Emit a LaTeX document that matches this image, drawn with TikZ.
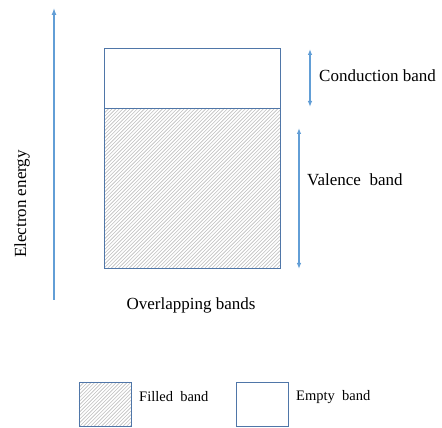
\documentclass[tikz,border=0pt]{standalone}
\usepackage{fontspec}
\setmainfont{Liberation Serif}
\usetikzlibrary{arrows.meta}
\definecolor{bandedge}{RGB}{79,118,168}
\definecolor{arrowblue}{RGB}{98,158,214}
\definecolor{hatchgray}{RGB}{190,190,190}
% diagonal hatching of the box (#1,#2)-(#3,#4), segments cut to the box edges
\newcommand\hatchbox[4]{%
  \pgfmathsetmacro\hbcmin{#1-#4+1.8}%
  \pgfmathsetmacro\hbcnext{\hbcmin+3.6}%
  \pgfmathsetmacro\hbcmax{#3-#2}%
  \foreach \hbc in {\hbcmin,\hbcnext,...,\hbcmax}{%
    \pgfmathsetmacro\hbxs{max(#1,#2+(\hbc))}%
    \pgfmathsetmacro\hbxe{min(#3,#4+(\hbc))}%
    \pgfmathsetmacro\hbys{\hbxs-(\hbc)}%
    \pgfmathsetmacro\hbye{\hbxe-(\hbc)}%
    \draw[hatch] (\hbxs,\hbys) -- (\hbxe,\hbye);
  }}
\begin{document}
\begin{tikzpicture}[x=1pt,y=1pt,
  band/.style={draw=bandedge,line width=0.9pt},
  hatch/.style={draw=hatchgray,line width=0.6pt},
  span/.style={draw=arrowblue,line width=1.1pt,{Latex[length=6pt,width=4.5pt]}-{Latex[length=6pt,width=4.5pt]}},
  axis/.style={draw=arrowblue,line width=1.3pt,-{Latex[length=7pt,width=5pt]}},
  lbl/.style={font=\fontsize{17}{20}\selectfont,inner sep=0pt},
  leg/.style={font=\fontsize{14.5}{17}\selectfont,inner sep=0pt}]
\useasboundingbox (0,0) rectangle (442,428);

% energy axis
\coordinate (axbot) at (54,128);
\coordinate (axtop) at (54,420);
\draw[axis] (axbot) -- (axtop);
\node[lbl] (energy) at (22,224) {\rotatebox{90}{Electron energy}};

% overlapping bands: hatched valence band below the empty conduction band
\coordinate (vsw) at (104,160);
\coordinate (vne) at (280,320);
\coordinate (cnw) at (104,320);
\coordinate (cne) at (280,380);
\hatchbox{104}{160}{280}{320}
\draw[band] (vsw) rectangle (vne);
\draw[band] (cnw) rectangle (cne);

% band extents
\coordinate (ct) at (310,379);
\coordinate (cb) at (310,321);
\draw[span] (ct) -- (cb);
\coordinate (vt) at (299,300);
\coordinate (vb) at (299,159);
\draw[span] (vt) -- (vb);
\node[lbl,anchor=west] (clabel) at (319,352) {Conduction band};
\node[lbl,anchor=west] (vlabel) at (307,248) {Valence\ \ band};
\node[lbl] (caption) at (191,123) {Overlapping bands};

% legend
\coordinate (fsw) at (79,2);
\coordinate (fne) at (131,46);
\hatchbox{79}{2}{131}{46}
\draw[band] (fsw) rectangle (fne);
\node[leg,anchor=west] (legfilledtxt) at (139,31) {Filled\ \ band};
\coordinate (esw) at (236,2);
\coordinate (ene) at (288,46);
\draw[band] (esw) rectangle (ene);
\node[leg,anchor=west] (legemptytxt) at (296,31) {Empty\ \ band};
\end{tikzpicture}
\end{document}
